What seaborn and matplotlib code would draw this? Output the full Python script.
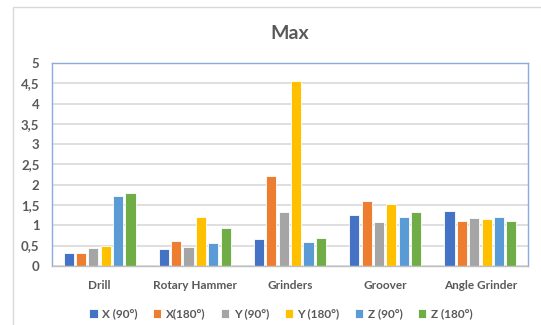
import matplotlib
matplotlib.use("Agg")
import matplotlib.pyplot as plt
import matplotlib.patches as mpatches
from matplotlib.ticker import FuncFormatter, MultipleLocator
import seaborn as sns
import pandas as pd

categories = ["Drill", "Rotary Hammer", "Grinders", "Groover", "Angle Grinder"]
series = ["X (90°)", "X(180°)", "Y (90°)", "Y (180°)", "Z (90°)", "Z (180°)"]
x_90 = [0.31, 0.42, 0.66, 1.25, 1.35]
x_180 = [0.31, 0.61, 2.22, 1.60, 1.10]
y_90 = [0.45, 0.46, 1.32, 1.07, 1.19]
y_180 = [0.48, 1.21, 4.55, 1.53, 1.15]
z_90 = [1.71, 0.56, 0.60, 1.21, 1.21]
z_180 = [1.79, 0.93, 0.69, 1.32, 1.10]
colors = ["#4472C4", "#ED7D31", "#A5A5A5", "#FFC000", "#5B9BD5", "#70AD47"]

rows = []
for name, vals in zip(series, [x_90, x_180, y_90, y_180, z_90, z_180]):
    for cat, v in zip(categories, vals):
        rows.append({"tool": cat, "axis": name, "value": v})
df = pd.DataFrame(rows)

sns.set_theme(style="white")
plt.rcParams["font.family"] = ["Lato", "DejaVu Sans"]
text_color = "#595959"

fig = plt.figure(figsize=(5.41, 3.25), dpi=100)
ax = fig.add_axes([0.096, 0.182, 0.88, 0.624])

sns.barplot(data=df, x="tool", y="value", hue="axis", order=categories,
            hue_order=series, palette=colors, width=0.78, gap=0.18,
            edgecolor="white", linewidth=0.6, ax=ax, legend=True, saturation=1)

ax.set_ylim(0, 5)
ax.yaxis.set_major_locator(MultipleLocator(0.5))
ax.yaxis.set_major_formatter(FuncFormatter(
    lambda v, p: f"{v:g}".replace(".", ",")))
ax.set_xlim(-0.5, len(categories) - 0.5)
ax.grid(axis="y", color="#D9D9D9", linewidth=1.2)
ax.set_axisbelow(True)
ax.set_xlabel("")
ax.set_ylabel("")
for side in ["top", "left", "right"]:
    ax.spines[side].set_color("#8EA9DB")
    ax.spines[side].set_linewidth(1.0)
ax.spines["bottom"].set_color("#BFBFBF")
ax.spines["bottom"].set_linewidth(1.0)
ax.tick_params(axis="x", length=0, labelsize=8.5, labelcolor=text_color, pad=10)
ax.tick_params(axis="y", length=0, labelsize=9.5, labelcolor=text_color, pad=9)
for lbl in ax.get_xticklabels() + ax.get_yticklabels():
    lbl.set_fontweight("bold")

ax.set_title("Max", fontsize=14, fontweight="bold", color=text_color, pad=17)

handles, labels = ax.get_legend_handles_labels()
ax.legend(handles, labels, loc="center", bbox_to_anchor=(281 / 541, 1 - 314 / 325),
          bbox_transform=fig.transFigure, ncol=6, frameon=False,
          handlelength=0.7, handleheight=0.7, handletextpad=0.4, columnspacing=1.3,
          prop={"size": 8.5, "weight": "bold"}, labelcolor=text_color)

fig.patches.append(mpatches.Rectangle((13 / 541, -0.05), 1.1, 1 - 7 / 325 + 0.05,
                                      transform=fig.transFigure, fill=False,
                                      edgecolor="#D9D9D9", linewidth=1.0))

fig.savefig("out.png", dpi=100, facecolor="white")
